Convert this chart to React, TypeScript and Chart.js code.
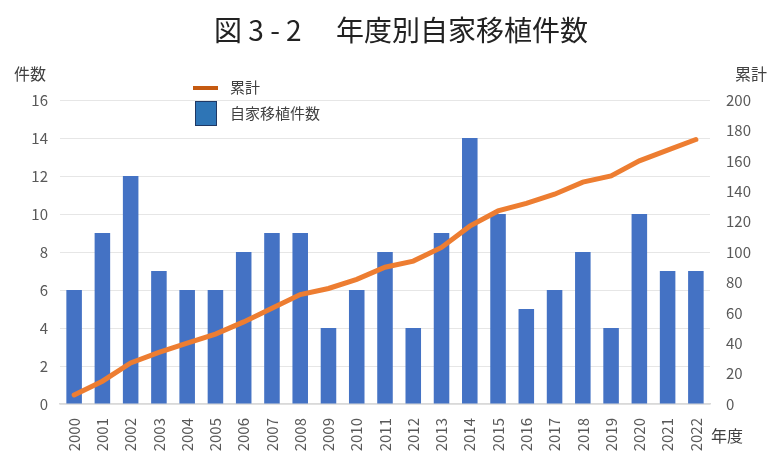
import React, { useEffect, useRef } from "react";
import { Chart, registerables } from "chart.js";

Chart.register(...registerables);

const years = ["2000","2001","2002","2003","2004","2005","2006","2007","2008","2009","2010","2011","2012","2013","2014","2015","2016","2017","2018","2019","2020","2021","2022"];
const counts = [6, 9, 12, 7, 6, 6, 8, 9, 9, 4, 6, 8, 4, 9, 14, 10, 5, 6, 8, 4, 10, 7, 7];
const cumulative = [6, 15, 27, 34, 40, 46, 54, 63, 72, 76, 82, 90, 94, 103, 117, 127, 132, 138, 146, 150, 160, 167, 174];
const leftTicks = [0, 2, 4, 6, 8, 10, 12, 14, 16];
const rightTicks = [0, 20, 40, 60, 80, 100, 120, 140, 160, 180, 200];

const FONT = "'Noto Sans CJK JP', 'Noto Sans', sans-serif";

export default function App() {
  const ref = useRef<HTMLCanvasElement | null>(null);

  useEffect(() => {
    document.body.style.margin = "0";
    if (!ref.current) return;
    const chart = new Chart(ref.current, {
      type: "bar",
      data: {
        labels: years,
        datasets: [
          {
            type: "line",
            label: "累計",
            data: cumulative,
            borderColor: "#ED7D31",
            backgroundColor: "#ED7D31",
            borderWidth: 5,
            borderCapStyle: "round",
            pointRadius: 0,
            tension: 0,
            yAxisID: "y2",
            order: 0,
          },
          {
            type: "bar",
            label: "自家移植件数",
            data: counts,
            backgroundColor: "#4472C4",
            yAxisID: "y",
            categoryPercentage: 1,
            barPercentage: 0.55,
            order: 1,
          },
        ],
      },
      options: {
        animation: false,
        responsive: false,
        maintainAspectRatio: false,
        layout: { padding: { top: 100, left: 0, right: 0, bottom: 0 } },
        plugins: { legend: { display: false }, title: { display: false }, tooltip: { enabled: false } },
        scales: {
          x: {
            grid: { display: false },
            border: { color: "#d9d9d9", width: 1.5 },
            ticks: {
              font: { family: FONT, size: 15 },
              color: "#595959",
              minRotation: 90,
              maxRotation: 90,
              autoSkip: false,
              padding: 6,
            },
            afterFit: (s: any) => { s.height = 66; },
          },
          y: {
            position: "left",
            min: 0,
            max: 16,
            afterBuildTicks: (s: any) => { s.ticks = leftTicks.map((v) => ({ value: v })); },
            grid: { color: "#e6e6e6", drawTicks: false },
            border: { display: false },
            ticks: { font: { family: FONT, size: 15 }, color: "#595959", padding: 12 },
            afterFit: (s: any) => { s.width = 60; },
          },
          y2: {
            position: "right",
            min: 0,
            max: 200,
            afterBuildTicks: (s: any) => { s.ticks = rightTicks.map((v) => ({ value: v })); },
            grid: { display: false, drawTicks: false },
            border: { display: false },
            ticks: { font: { family: FONT, size: 15 }, color: "#595959", padding: 16 },
            afterFit: (s: any) => { s.width = 70; },
          },
        },
      },
    });
    return () => chart.destroy();
  }, []);

  const txt: React.CSSProperties = {
    position: "absolute",
    fontFamily: FONT,
    color: "#404040",
    fontSize: 15,
    lineHeight: "18px",
    whiteSpace: "nowrap",
  };

  return (
    <div style={{ position: "relative", width: 780, height: 470, background: "#fff", overflow: "hidden" }}>
      <canvas ref={ref} width={780} height={470} style={{ position: "absolute", left: 0, top: 0 }} />
      <div style={{ ...txt, left: 0, width: 802, top: 11, textAlign: "center", fontSize: 28, lineHeight: "36px", color: "#222" }}>
        図 3 - 2　 年度別自家移植件数
      </div>
      <div style={{ ...txt, left: 14, top: 64, fontSize: 16 }}>件数</div>
      <div style={{ ...txt, left: 735, top: 64, fontSize: 16 }}>累計</div>
      <div style={{ ...txt, left: 711, top: 426, fontSize: 16 }}>年度</div>
      <div style={{ position: "absolute", left: 193, top: 86, width: 25, height: 4, background: "#C55A11" }} />
      <div style={{ ...txt, left: 230, top: 78 }}>累計</div>
      <div style={{ position: "absolute", left: 195, top: 101, width: 20, height: 23, background: "#2E75B6", border: "1px solid #1F3864" }} />
      <div style={{ ...txt, left: 230, top: 104 }}>自家移植件数</div>
    </div>
  );
}
